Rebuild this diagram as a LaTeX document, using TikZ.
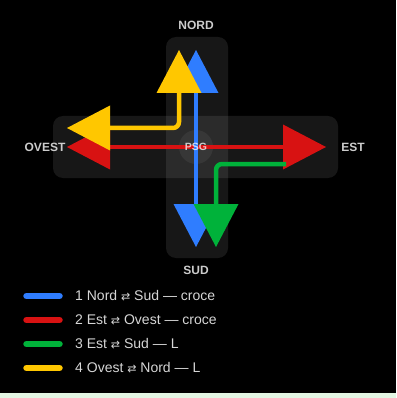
\documentclass[tikz,border=0pt]{standalone}
\usepackage{fontspec}
\setmainfont{Liberation Sans}
\newfontfamily\symfont{DejaVu Sans}
\usetikzlibrary{arrows.meta}
\definecolor{cblue}{HTML}{2F7DFF}
\definecolor{cred}{HTML}{D81212}
\definecolor{cgreen}{HTML}{00B23A}
\definecolor{cyellow}{HTML}{FFC700}
\definecolor{clabel}{HTML}{CCCCCC}
\definecolor{clegend}{HTML}{D6D6D6}
\definecolor{cstrip}{HTML}{E3F6E3}
\tikzset{
  road/.style={fill=white,fill opacity=0.09,rounded corners=10pt},
  tri/.tip={Triangle[length=43pt,width=45pt,line width=0pt]},
  route/.style={line width=4.5pt,rounded corners=6pt},
  dirlbl/.style={text=clabel,font=\bfseries\fontsize{12}{14}\selectfont,inner sep=0pt},
  legline/.style={line width=6.5pt,line cap=round},
  legtext/.style={text=clegend,font=\fontsize{14}{16}\selectfont,anchor=west,inner sep=0pt},
}
\newcommand{\lr}{{\symfont\fontsize{11}{13}\selectfont ⇄}}
\begin{document}
\begin{tikzpicture}[x=1pt,y=-1pt]
\fill[black] (0,0) rectangle (396,393);
\fill[cstrip] (0,393) rectangle (396,398);
\useasboundingbox (0,0) rectangle (396,398);
% roads
\fill[road] (166,37) rectangle (228,258);
\fill[road] (53,116) rectangle (338,178);
\fill[white,fill opacity=0.06] (196,147) circle (17);
% coordinates
\coordinate (N1) at (196,50);
\coordinate (S1) at (196,247);
\coordinate (W2) at (67,147);
\coordinate (E2) at (326,147);
\coordinate (G0) at (286,164);
\coordinate (G1) at (216,164);
\coordinate (S3) at (216,247);
\coordinate (N4) at (179,50);
\coordinate (Y1) at (179,128);
\coordinate (W4) at (67,128);
% routes
\draw[route,cred,{tri}-{tri}] (W2) -- (E2);
\draw[route,cblue,{tri}-{tri}] (N1) -- (S1);
\draw[route,cgreen,-{tri}] (G0) -- (G1) -- (S3);
\draw[route,cyellow,{tri}-{tri}] (N4) -- (Y1) -- (W4);
% labels
\node[dirlbl] (nord) at (196,25) {NORD};
\node[dirlbl] (sud) at (196,270) {SUD};
\node[dirlbl] (ovest) at (45,147) {OVEST};
\node[dirlbl] (est) at (353,147) {EST};
\node[text=white,text opacity=0.75,font=\bfseries\fontsize{10.5}{12}\selectfont,inner sep=0pt] (psg) at (196,147) {PSG};
% legend
\draw[legline,cblue] (26.5,296) -- (59.5,296);
\draw[legline,cred] (26.5,320) -- (59.5,320);
\draw[legline,cgreen] (26.5,344) -- (59.5,344);
\draw[legline,cyellow] (26.5,368) -- (59.5,368);
\node[legtext] (l1) at (75,296) {1 Nord \lr\ Sud — croce};
\node[legtext] (l2) at (75,320) {2 Est \lr\ Ovest — croce};
\node[legtext] (l3) at (75,344) {3 Est \lr\ Sud — L};
\node[legtext] (l4) at (75,368) {4 Ovest \lr\ Nord — L};
\end{tikzpicture}
\end{document}
